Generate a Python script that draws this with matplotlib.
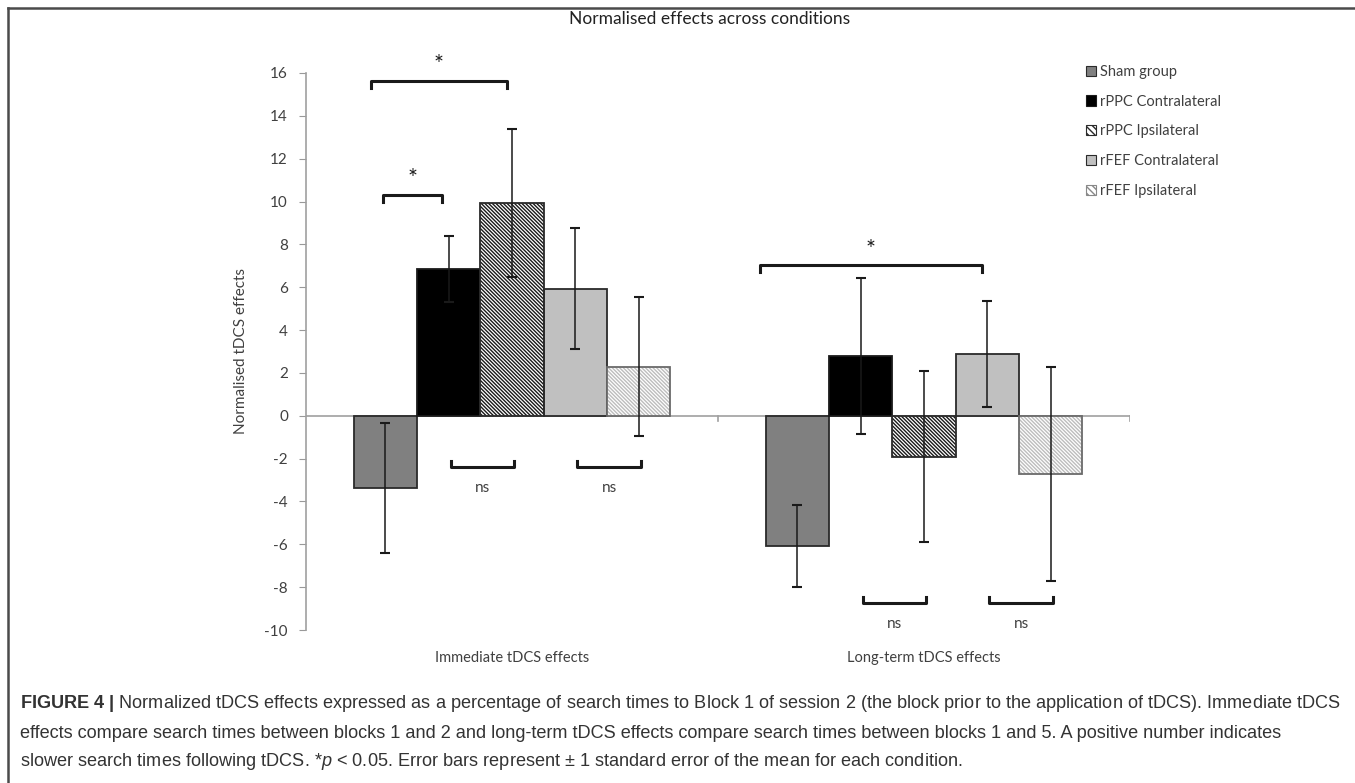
import matplotlib
matplotlib.use("Agg")
import matplotlib.pyplot as plt
import numpy as np
from matplotlib.patches import Patch
from matplotlib.lines import Line2D

plt.rcParams["font.family"] = ["Lato", "DejaVu Sans"]
plt.rcParams["hatch.linewidth"] = 1.0
plt.rcParams["axes.unicode_minus"] = False
plt.rcParams["mathtext.fontset"] = "custom"
plt.rcParams["mathtext.rm"] = "Liberation Sans"
plt.rcParams["mathtext.it"] = "Liberation Sans:italic"
plt.rcParams["mathtext.bf"] = "Liberation Sans:bold"

# data
categories = ["Immediate tDCS effects", "Long-term tDCS effects"]
conditions = ["Sham group", "rPPC Contralateral", "rPPC Ipsilateral",
              "rFEF Contralateral", "rFEF Ipsilateral"]
sham = [-3.37, -6.08]
rppc_contra = [6.85, 2.79]
rppc_ipsi = [9.92, -1.91]
rfef_contra = [5.93, 2.88]
rfef_ipsi = [2.29, -2.73]
sham_se = [3.02, 1.90]
rppc_contra_se = [1.56, 3.66]
rppc_ipsi_se = [3.46, 4.00]
rfef_contra_se = [2.83, 2.48]
rfef_ipsi_se = [3.24, 5.00]

means = [sham, rppc_contra, rppc_ipsi, rfef_contra, rfef_ipsi]
errors = [sham_se, rppc_contra_se, rppc_ipsi_se, rfef_contra_se, rfef_ipsi_se]

# significance marks: (category, bar a, bar b, level, label)
sig_tests = [(0, 0, 2, 15.64, "*"), (0, 0, 1, 10.32, "*"), (1, 0, 3, 7.04, "*")]
ns_tests = [(0, 1, 2, -2.38), (0, 3, 4, -2.38), (1, 1, 2, -8.73), (1, 3, 4, -8.73)]

# styles
face = ["#808080", "#000000", "white", "#c0c0c0", "white"]
hatches = [None, None, "\\" * 9, None, "\\" * 9]
hatch_col = [None, None, "#1a1a1a", None, "#bdbdbd"]
edge = ["#2a2a2a", "#1a1a1a", "#2a2a2a", "#2a2a2a", "#6a6a6a"]

fig = plt.figure(figsize=(13.55, 7.83), dpi=100)
ax = fig.add_axes([306 / 1355, 1 - 630 / 783, 824 / 1355, 557 / 783])

x = np.arange(len(categories))
width = 1 / 6.5
txt = "#404040"

for i, (m, e) in enumerate(zip(means, errors)):
    pos = x + (i - 2) * width
    if hatches[i]:
        ax.bar(pos, m, width, color=face[i], edgecolor=hatch_col[i],
               hatch=hatches[i], linewidth=0, zorder=2)
        ax.bar(pos, m, width, fill=False, edgecolor=edge[i], linewidth=1.3, zorder=3)
    else:
        ax.bar(pos, m, width, color=face[i], edgecolor=edge[i], linewidth=1.3, zorder=2)
    ax.errorbar(pos, m, yerr=e, fmt="none", ecolor="#1a1a1a", elinewidth=1.1,
                capsize=3.5, capthick=1.5, zorder=4)

ax.set_xlim(-0.5, 1.5)
ax.set_ylim(-10, 16)
ax.set_yticks(np.arange(-10, 17, 2))
ax.tick_params(axis="y", direction="out", length=5, color="#999999",
               labelsize=11, labelcolor=txt, pad=8)
ax.set_xticks([])
for s in ["top", "right", "bottom"]:
    ax.spines[s].set_visible(False)
ax.spines["left"].set_color("#a0a0a0")
ax.spines["left"].set_linewidth(1.2)

# category axis drawn at zero
ax.axhline(0, color="#a0a0a0", lw=1.2, zorder=1)
for xb in [0.5, 1.5]:
    ax.plot([xb, xb], [0, -0.25], color="#a0a0a0", lw=1.2, zorder=1)
for xi, c in zip(x, categories):
    ax.text(xi, -0.05, c, transform=ax.get_xaxis_transform(), ha="center",
            va="center", fontsize=10.5, color=txt)

ax.set_ylabel("Normalised tDCS effects", fontsize=11, color=txt, labelpad=12)
fig.text(0.524, 1 - 19 / 783, "Normalised effects across conditions", ha="center",
         va="center", fontsize=12.5, color="#222222")


def center(cat, bar):
    return x[cat] + (bar - 2) * width


offsets = [(-0.035, -0.013), (-0.006, -0.015), (-0.09, -0.014)]
for (cat, a, b, lvl, lab), (da, db) in zip(sig_tests, offsets):
    x0, x1 = center(cat, a) + da, center(cat, b) + db
    ax.plot([x0, x0, x1, x1], [lvl - 0.33, lvl, lvl, lvl - 0.33], color="#1a1a1a",
            lw=2.2, solid_joinstyle="round", clip_on=False, zorder=5)
    ax.text((x0 + x1) / 2, lvl + 0.25, lab, ha="center", va="bottom",
            fontsize=17, color="#1a1a1a", clip_on=False)

for cat, a, b, lvl in ns_tests:
    x0, x1 = center(cat, a) + 0.005, center(cat, b) + 0.005
    ax.plot([x0, x0, x1, x1], [lvl + 0.25, lvl, lvl, lvl + 0.25], color="#1a1a1a",
            lw=2.2, clip_on=False, zorder=5)
    ax.text((x0 + x1) / 2, lvl - 1.0, "ns", ha="center", va="center",
            fontsize=11, color=txt)

handles = []
for i in range(5):
    if hatches[i]:
        handles.append(Patch(facecolor="white", edgecolor=edge[i] if i == 2 else "#888888",
                             hatch="\\" * 5, linewidth=0.8))
    else:
        handles.append(Patch(facecolor=face[i], edgecolor=edge[i], linewidth=0.8))
leg = fig.legend(handles, conditions, loc="upper left", bbox_to_anchor=(1080 / 1355, 1 - 59 / 783),
                 frameon=False, fontsize=10.5, handlelength=0.7, handleheight=0.7,
                 handletextpad=0.3, labelspacing=1.08, borderaxespad=0)
for t in leg.get_texts():
    t.set_color(txt)

# frame of the figure panel
fig.add_artist(Line2D([8 / 1355, 1], [1 - 8 / 783] * 2, color="#4a4a4a", lw=1.8))
fig.add_artist(Line2D([8 / 1355] * 2, [0, 1 - 8 / 783], color="#4a4a4a", lw=1.8))

caption = [
    r"$\bf{FIGURE\ 4\ |}$ Normalized tDCS effects expressed as a percentage of search times to Block 1 of session 2 (the block prior to the application of tDCS). Immediate tDCS",
    "effects compare search times between blocks 1 and 2 and long-term tDCS effects compare search times between blocks 1 and 5. A positive number indicates",
    r"slower search times following tDCS. *$\it{p}$ < 0.05. Error bars represent ± 1 standard error of the mean for each condition.",
]
for k, line in enumerate(caption):
    fig.text(20 / 1355, 1 - (704 + 29 * k) / 783, line, ha="left", va="center",
             fontsize=13.05, color="#333333", family="Liberation Sans")

fig.savefig("out.png", dpi=100)
